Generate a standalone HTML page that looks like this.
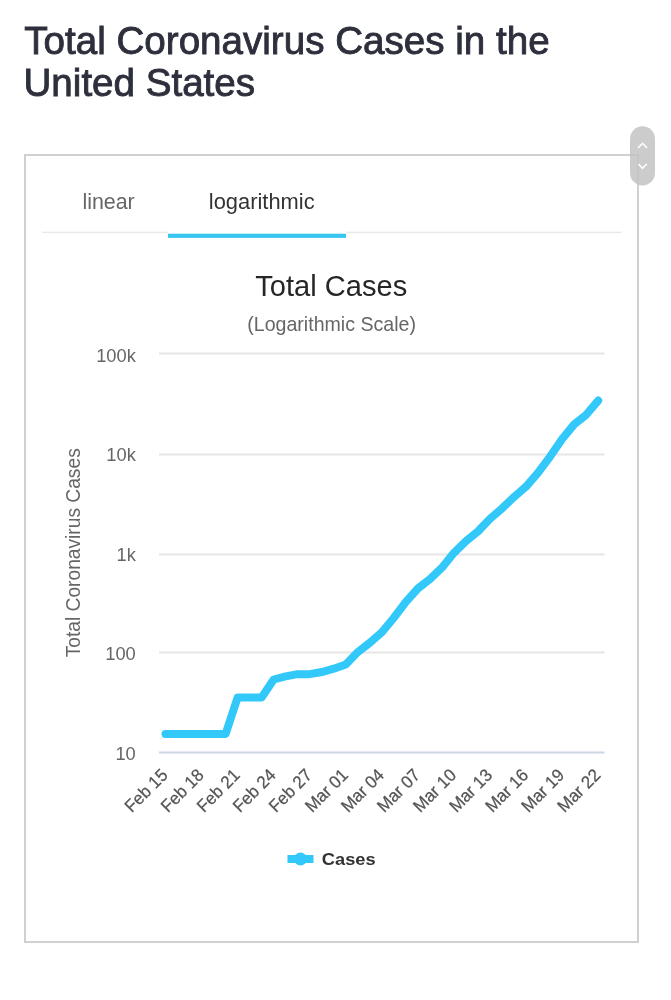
<!DOCTYPE html>
<html><head><meta charset="utf-8">
<style>
html,body{margin:0;padding:0;background:#fff;width:671px;height:1000px;overflow:hidden}
svg{position:absolute;left:0;top:0;will-change:transform;font-family:"Liberation Sans",sans-serif}
</style></head><body>
<svg width="671" height="1000" viewBox="0 0 671 1000">
<rect x="25" y="155" width="613" height="787" fill="none" stroke="#d0d0d0" stroke-width="2"/>
<rect x="42" y="231.7" width="126" height="1.4" fill="#e8e8e8"/><rect x="346" y="231.7" width="275.5" height="1.4" fill="#e8e8e8"/>
<rect x="168" y="233.7" width="178" height="4.2" fill="#38c5f0"/>
<line x1="159" x2="604.5" y1="353.50" y2="353.50" stroke="#e6e6e6" stroke-width="1.8"/>
<text transform="translate(135.80,361.60)" font-size="18.3" fill="#666" text-anchor="end">100k</text>
<line x1="159" x2="604.5" y1="454.50" y2="454.50" stroke="#e6e6e6" stroke-width="1.8"/>
<text transform="translate(135.80,461.10)" font-size="18.3" fill="#666" text-anchor="end">10k</text>
<line x1="159" x2="604.5" y1="554.50" y2="554.50" stroke="#e6e6e6" stroke-width="1.8"/>
<text transform="translate(135.80,560.60)" font-size="18.3" fill="#666" text-anchor="end">1k</text>
<line x1="159" x2="604.5" y1="652.50" y2="652.50" stroke="#e6e6e6" stroke-width="1.8"/>
<text transform="translate(135.80,660.10)" font-size="18.3" fill="#666" text-anchor="end">100</text>
<line x1="159" x2="604.5" y1="752.50" y2="752.50" stroke="#cdd4e4" stroke-width="1.8"/>
<text transform="translate(135.80,759.60)" font-size="18.3" fill="#666" text-anchor="end">10</text>
<g fill="#666">
<text transform="translate(168.80,776.20) rotate(-45) scale(0.955,1)" font-size="17.6" fill="#555" text-anchor="end" stroke="#555" stroke-width="0.25">Feb 15</text>
<text transform="translate(204.86,776.20) rotate(-45) scale(0.955,1)" font-size="17.6" fill="#555" text-anchor="end" stroke="#555" stroke-width="0.25">Feb 18</text>
<text transform="translate(240.92,776.20) rotate(-45) scale(0.955,1)" font-size="17.6" fill="#555" text-anchor="end" stroke="#555" stroke-width="0.25">Feb 21</text>
<text transform="translate(276.98,776.20) rotate(-45) scale(0.955,1)" font-size="17.6" fill="#555" text-anchor="end" stroke="#555" stroke-width="0.25">Feb 24</text>
<text transform="translate(313.03,776.20) rotate(-45) scale(0.955,1)" font-size="17.6" fill="#555" text-anchor="end" stroke="#555" stroke-width="0.25">Feb 27</text>
<text transform="translate(349.09,776.20) rotate(-45) scale(0.955,1)" font-size="17.6" fill="#555" text-anchor="end" stroke="#555" stroke-width="0.25">Mar 01</text>
<text transform="translate(385.15,776.20) rotate(-45) scale(0.955,1)" font-size="17.6" fill="#555" text-anchor="end" stroke="#555" stroke-width="0.25">Mar 04</text>
<text transform="translate(421.21,776.20) rotate(-45) scale(0.955,1)" font-size="17.6" fill="#555" text-anchor="end" stroke="#555" stroke-width="0.25">Mar 07</text>
<text transform="translate(457.27,776.20) rotate(-45) scale(0.955,1)" font-size="17.6" fill="#555" text-anchor="end" stroke="#555" stroke-width="0.25">Mar 10</text>
<text transform="translate(493.33,776.20) rotate(-45) scale(0.955,1)" font-size="17.6" fill="#555" text-anchor="end" stroke="#555" stroke-width="0.25">Mar 13</text>
<text transform="translate(529.38,776.20) rotate(-45) scale(0.955,1)" font-size="17.6" fill="#555" text-anchor="end" stroke="#555" stroke-width="0.25">Mar 16</text>
<text transform="translate(565.44,776.20) rotate(-45) scale(0.955,1)" font-size="17.6" fill="#555" text-anchor="end" stroke="#555" stroke-width="0.25">Mar 19</text>
<text transform="translate(601.50,776.20) rotate(-45) scale(0.955,1)" font-size="17.6" fill="#555" text-anchor="end" stroke="#555" stroke-width="0.25">Mar 22</text>
</g>
<text transform="translate(24.30,54.00) scale(0.977,1)" font-size="39.5" fill="#2d303c" stroke="#2d303c" stroke-width="0.9">Total Coronavirus Cases in the</text>
<text transform="translate(23.50,96.30) scale(0.977,1)" font-size="39.5" fill="#2d303c" stroke="#2d303c" stroke-width="0.9">United States</text>
<text transform="translate(82.40,209.20)" font-size="21.4" fill="#666">linear</text>
<text transform="translate(208.80,209.20) scale(0.995,1)" font-size="22" fill="#333">logarithmic</text>
<text transform="translate(331.30,295.60) scale(0.97,1)" font-size="30" fill="#262626" text-anchor="middle">Total Cases</text>
<text transform="translate(331.60,330.50) scale(0.99,1)" font-size="19.8" fill="#666" text-anchor="middle">(Logarithmic Scale)</text>
<text transform="translate(79.80,552.80) rotate(-90) scale(0.96,1)" font-size="20" fill="#666" text-anchor="middle">Total Coronavirus Cases</text>
<text transform="translate(321.80,865.20) scale(1.05,1)" font-size="17.4" fill="#333" font-weight="bold">Cases</text>
<polyline points="165.50,734.07 177.52,734.07 189.54,734.07 201.56,734.07 213.58,734.07 225.60,734.07 237.62,697.44 249.64,697.44 261.66,697.44 273.68,679.50 285.69,676.35 297.71,674.14 309.73,674.14 321.75,672.03 333.77,668.72 345.79,664.49 357.81,652.05 369.83,642.75 381.85,632.27 393.87,617.77 405.89,601.90 417.91,588.49 429.93,579.06 441.95,567.67 453.97,552.76 465.99,541.12 478.01,531.38 490.03,518.75 502.04,508.45 514.06,496.96 526.08,486.56 538.10,472.62 550.12,456.57 562.14,439.09 574.16,424.37 586.18,414.76 598.20,400.56" fill="none" stroke="#33c8fa" stroke-width="8" stroke-linejoin="round" stroke-linecap="round"/>
<rect x="287.5" y="855" width="26" height="8" fill="#33c8fa"/>
<circle cx="300.5" cy="859" r="6.5" fill="#33c8fa"/>
<rect x="630" y="126.3" width="25" height="59.2" rx="12.5" fill="rgba(195,195,195,0.85)"/>
<path d="M638 148 L642.5 143.3 L647 148 M638.5 164 L642.5 168.3 L646.8 164" fill="none" stroke="#fff" stroke-width="1.6"/>
</svg>
</body></html>
